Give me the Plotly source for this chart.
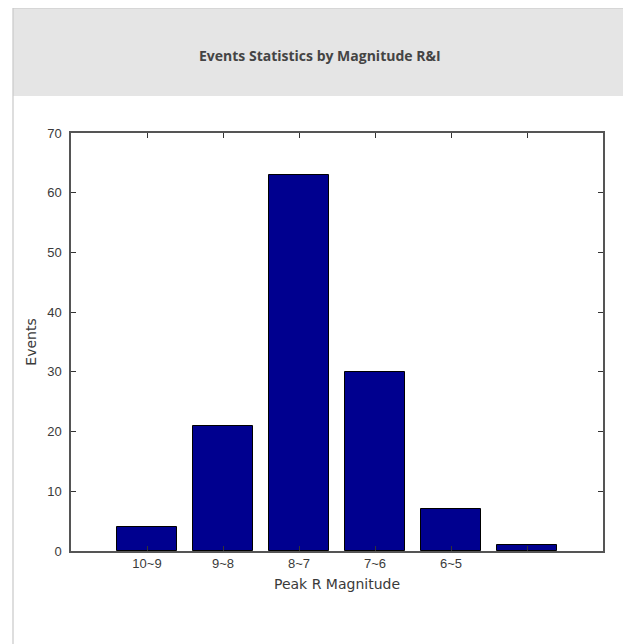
import plotly.graph_objects as go

categories = [1, 2, 3, 4, 5, 6]
tick_labels = ["10~9", "9~8", "8~7", "7~6", "6~5", ""]
events = [4, 21, 63, 30, 7, 1]
title_text = "Events Statistics by Magnitude R&amp;I"

# page body adds an 8px margin, so the figure is drawn 8px smaller and shifted
OFF = 8
W, H = 631 - OFF, 644 - OFF
L, R, T, B = 71 - OFF, 603 - OFF, 133 - OFF, 551 - OFF  # plot area in figure pixels

def px_x(px):
    return (px - OFF - L) / (R - L)

def px_y(py):
    return (B - (py - OFF)) / (B - T)

fig = go.Figure()
fig.add_trace(go.Bar(
    x=categories, y=events, width=0.8,
    marker=dict(color="#00008f", line=dict(color="#000000", width=1)),
    showlegend=False,
))

tick_font = dict(family="Liberation Sans, Arial, sans-serif", size=13, color="#3a3a3a")
label_font = dict(family="DejaVu Sans, sans-serif", size=14, color="#3a3a3a")

fig.update_layout(
    width=W, height=H,
    margin=dict(l=L, r=W - R, t=T, b=H - B, pad=0),
    paper_bgcolor="#ffffff",
    plot_bgcolor="#ffffff",
    bargap=0,
    xaxis=dict(
        range=[0, 7], tickmode="array", tickvals=categories, ticktext=tick_labels,
        ticks="inside", ticklen=5, tickcolor="#333333", tickwidth=1,
        showline=True, linecolor="#555555", linewidth=1.5, mirror="ticks",
        showgrid=False, zeroline=False, tickfont=tick_font,
        title=dict(text="Peak R Magnitude", font=label_font, standoff=9),
    ),
    yaxis=dict(
        range=[0, 70], tickmode="array", tickvals=list(range(0, 71, 10)),
        ticks="inside", ticklen=5, tickcolor="#333333", tickwidth=1,
        showline=True, linecolor="#555555", linewidth=1.5, mirror="ticks",
        showgrid=False, zeroline=False, tickfont=tick_font, ticklabelstandoff=5,
        title=dict(text="Events", font=label_font, standoff=7),
    ),
    shapes=[
        dict(type="rect", xref="paper", yref="paper",
             x0=px_x(13), x1=px_x(626), y0=px_y(96), y1=px_y(8),
             fillcolor="#e5e5e5", line=dict(width=0), layer="below"),
        dict(type="rect", xref="paper", yref="paper",
             x0=px_x(13), x1=px_x(626), y0=px_y(660), y1=px_y(8),
             fillcolor="rgba(0,0,0,0)", line=dict(color="#c8c8c8", width=1.2), layer="below"),
    ],
    annotations=[
        dict(text="<b>" + title_text + "</b>", xref="paper", yref="paper",
             x=px_x(320), y=px_y(55), showarrow=False, xanchor="center", yanchor="middle",
             font=dict(family="Open Sans, sans-serif", size=14, color="#444444")),
    ],
)

fig.write_html("out.html")
